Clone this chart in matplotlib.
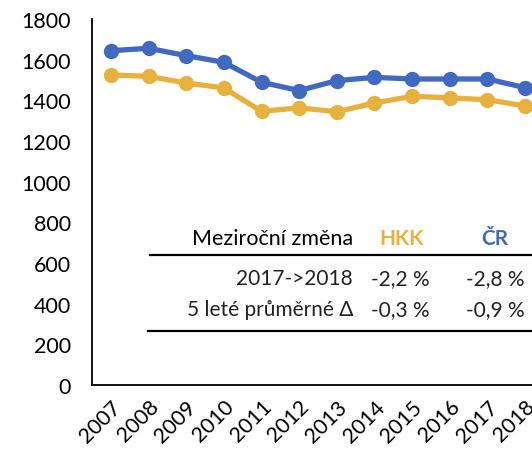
import matplotlib
matplotlib.use("Agg")
import matplotlib.pyplot as plt
from matplotlib.lines import Line2D

plt.rcParams['font.family'] = ['Lato', 'DejaVu Sans']

# Data
years = ["2007", "2008", "2009", "2010", "2011", "2012",
         "2013", "2014", "2015", "2016", "2017", "2018"]
cr = [1644, 1656, 1620, 1587, 1489, 1448, 1497, 1513, 1505, 1505, 1505, 1462]
hkk = [1525, 1518, 1485, 1461, 1346, 1363, 1344, 1387, 1420, 1412, 1403, 1372]

table_header = ["Meziroční změna", "HKK", "ČR"]
table_rows = [["2017->2018", "-2,2 %", "-2,8 %"],
              ["5 leté průměrné Δ", "-0,3 %", "-0,9 %"]]

blue = "#4169C1"
gold = "#E8B13E"

W, H = 532, 452
fig = plt.figure(figsize=(W / 100, H / 100), dpi=100)

# axes run past the right edge (the picture is cropped)
ax_l, ax_r, ax_t, ax_b = 92, 544, 20, 386
ax = fig.add_axes([ax_l / W, 1 - ax_b / H, (ax_r - ax_l) / W, (ax_b - ax_t) / H])

x = list(range(len(years)))
ax.plot(x, cr, color=blue, lw=3.8, marker='o', ms=10, zorder=3)
ax.plot(x, hkk, color=gold, lw=3.8, marker='o', ms=10, zorder=3)

ax.set_xlim(-0.5, len(years) - 0.5)
ax.set_ylim(0, 1800)
ax.set_yticks(range(0, 1801, 200))
ax.set_xticks(x)
ax.set_xticklabels(years, rotation=45, ha='right', va='top', rotation_mode='anchor')
ax.tick_params(axis='both', length=0, labelsize=15.5, colors='black')
ax.tick_params(axis='y', pad=15)
ax.tick_params(axis='x', pad=8)

for s in ['top', 'right']:
    ax.spines[s].set_visible(False)
for s in ['left', 'bottom']:
    ax.spines[s].set_linewidth(1.3)
    ax.spines[s].set_color('black')


def fx(px):
    return px / W


def fy(py):
    return 1 - py / H


# table inside plot area
fs = 15
fig.text(fx(353), fy(239), table_header[0], ha='right', va='center', fontsize=15.5, color='black')
fig.text(fx(402), fy(239), table_header[1], ha='center', va='center', fontsize=fs,
         color=gold, fontweight='bold')
fig.text(fx(495), fy(239), table_header[2], ha='center', va='center', fontsize=fs,
         color=blue, fontweight='bold')

row_y = [279, 310]
for ry, row in zip(row_y, table_rows):
    fig.text(fx(353), fy(ry), row[0], ha='right', va='center', fontsize=fs, color='#222222')
    fig.text(fx(430), fy(ry), row[1], ha='right', va='center', fontsize=fs, color='#222222')
    fig.text(fx(525), fy(ry), row[2], ha='right', va='center', fontsize=fs, color='#222222')

fig.add_artist(Line2D([fx(150), fx(540)], [fy(256), fy(256)], color='black', lw=1.6))
fig.add_artist(Line2D([fx(148), fx(540)], [fy(332), fy(332)], color='black', lw=1.6))

fig.savefig("out.png", dpi=100)
